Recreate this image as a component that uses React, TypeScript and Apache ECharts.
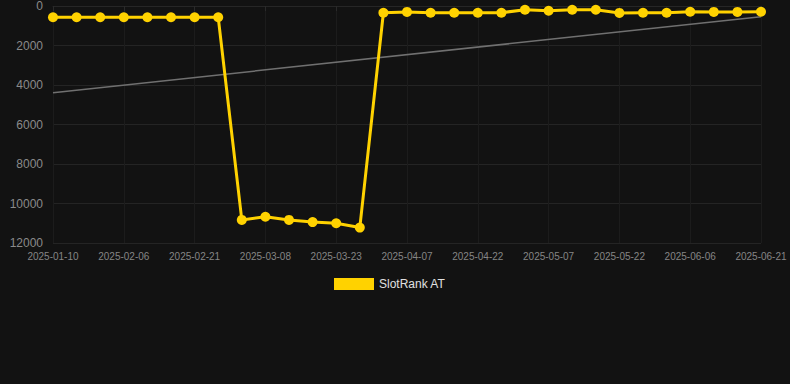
import React, { useEffect, useRef } from "react";
import * as echarts from "echarts";

const categories: string[] = [
  "2025-01-10", "2025-01-27", "2025-02-01", "2025-02-06", "2025-02-11", "2025-02-16",
  "2025-02-21", "2025-02-26", "2025-03-03", "2025-03-08", "2025-03-13", "2025-03-18",
  "2025-03-23", "2025-03-28", "2025-04-02", "2025-04-07", "2025-04-12", "2025-04-17",
  "2025-04-22", "2025-04-27", "2025-05-02", "2025-05-07", "2025-05-12", "2025-05-17",
  "2025-05-22", "2025-05-27", "2025-06-01", "2025-06-06", "2025-06-11", "2025-06-16",
  "2025-06-21",
];

const rankValues: number[] = [
  570, 570, 570, 570, 570, 570, 570, 570,
  10830, 10670, 10830, 10940, 11000, 11220,
  340, 300, 340, 340, 340, 340, 190, 240, 190, 190, 350, 340, 340, 290, 300, 300, 290,
];

const trendStart = 4390;
const trendEnd = 540;

const seriesName = "SlotRank AT";

export default function App() {
  const ref = useRef<HTMLDivElement>(null);
  useEffect(() => {
    if (!ref.current) return;
    const chart = echarts.init(ref.current, null, { renderer: "svg" });
    const trendData: (number | null)[] = categories.map((_, i) =>
      i === 0 ? trendStart : i === categories.length - 1 ? trendEnd : null
    );
    chart.setOption({
      animation: false,
      backgroundColor: "#121212",
      textStyle: { fontFamily: "Arial, Liberation Sans, sans-serif" },
      grid: { left: 53, right: 29, top: 6, bottom: 141 },
      legend: {
        top: 278,
        left: 334,
        padding: 0,
        itemWidth: 40,
        itemHeight: 12,
        icon: "rect",
        data: [{ name: seriesName, itemStyle: { color: "#FFD200" } }],
        textStyle: { color: "#e0e0e0", fontSize: 12 },
      },
      xAxis: {
        type: "category",
        data: categories,
        boundaryGap: false,
        axisLine: { lineStyle: { color: "#262626" } },
        axisTick: { show: true, alignWithLabel: true, interval: 2, lineStyle: { color: "#2a2a2a" } },
        axisLabel: { color: "#858585", fontSize: 10, interval: 2, margin: 8 },
        splitLine: { show: true, interval: 2, lineStyle: { color: "#1c1c1c" } },
      },
      yAxis: {
        type: "value",
        inverse: true,
        min: 0,
        max: 12000,
        interval: 2000,
        axisLine: { show: false },
        axisTick: { show: false },
        axisLabel: { color: "#8a8a8a", fontSize: 12, margin: 10, formatter: (v: number) => String(v) },
        splitLine: { lineStyle: { color: "#242424" } },
      },
      series: [
        {
          name: seriesName,
          type: "line",
          data: rankValues,
          symbol: "circle",
          symbolSize: 10,
          lineStyle: { color: "#FFD200", width: 3 },
          itemStyle: { color: "#FFD200" },
          z: 3,
        },
        {
          name: "trend",
          type: "line",
          data: trendData,
          connectNulls: true,
          symbol: "none",
          lineStyle: { color: "#707070", width: 1.5 },
          z: 2,
        },
      ],
    });
    return () => chart.dispose();
  }, []);
  return (
    <div
      ref={ref}
      style={{ position: "fixed", left: 0, top: 0, width: 790, height: 384 }}
    />
  );
}
